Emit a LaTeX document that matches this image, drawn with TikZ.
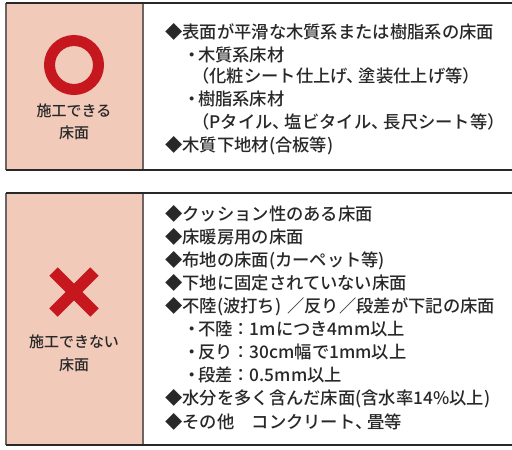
\documentclass[tikz,border=0pt]{standalone}
\usepackage{fontspec}
\setmainfont{Noto Sans CJK JP}[UprightFont=* Medium]
\definecolor{cellfill}{RGB}{242,202,186}
\definecolor{markred}{RGB}{198,22,30}
\definecolor{txtcol}{RGB}{40,40,40}
\definecolor{hcol}{RGB}{40,40,40}
\definecolor{vcol}{RGB}{110,100,100}
\newcommand{\dt}{・\kern-3pt}
\newcommand{\tk}{、\kern-5pt}
\begin{document}
\begin{tikzpicture}[x=1pt,y=-1pt,
  txt/.style={anchor=base west,inner sep=0pt,text=txtcol,font=\fontsize{17.3}{20}\selectfont},
  lbl/.style={anchor=base,inner sep=0pt,text=txtcol,font=\fontsize{15}{18}\selectfont},
  hline/.style={draw=hcol,line width=1.3pt},
  vline/.style={draw=vcol,line width=1.2pt},
  cell/.style={fill=cellfill}]
\useasboundingbox (0,0) rectangle (512,450);
% top box
\fill[cell] (6,3) rectangle (143,170);
\draw[vline] (6,3) -- (6,170);
\draw[vline] (143,3) -- (143,170);
\draw[hline] (6,3) -- (512,3);
\draw[hline] (6,170) -- (512,170);
% bottom box
\fill[cell] (6,193) rectangle (143,445);
\draw[vline] (6,193) -- (6,445);
\draw[vline] (143,193) -- (143,445);
\draw[hline] (6,193) -- (512,193);
\draw[hline] (6,445) -- (512,445);
% circle mark
\draw[markred,line width=11pt] (74,65) circle (24.5);
\node[lbl] (ok1) at (74,116) {施工できる};
\node[lbl] (ok2) at (74,138) {床面};
% cross mark
\draw[markred,line width=12pt] (53.5,271.5) -- (94.5,312.5);
\draw[markred,line width=12pt] (94.5,271.5) -- (53.5,312.5);
\node[lbl] (ng1) at (74,347.5) {施工できない};
\node[lbl] (ng2) at (74,370) {床面};
% top texts
\node[txt] (a1) at (165,38) {◆表面が平滑な木質系または樹脂系の床面};
\node[txt] (a2) at (183.5,61) {\dt 木質系床材};
\node[txt] (a3) at (192,82) {（化粧シート仕上げ\tk 塗装仕上げ等）};
\node[txt] (a4) at (183.5,105) {\dt 樹脂系床材};
\node[txt] (a5) at (192,128.5) {（Pタイル\tk 塩ビタイル\tk 長尺シート等）};
\node[txt] (a6) at (165,151) {◆木質下地材(合板等)};
% bottom texts
\node[txt] (b1) at (165,220) {◆クッション性のある床面};
\node[txt] (b2) at (165,243) {◆床暖房用の床面};
\node[txt] (b3) at (165,266) {◆布地の床面(カーペット等)};
\node[txt] (b4) at (165,289) {◆下地に固定されていない床面};
\node[txt] (b5) at (165,312) {◆不陸(波打ち)\kern6pt／反り／段差が下記の床面};
\node[txt] (b6) at (183.5,335.5) {\dt 不陸：1mにつき4mm以上};
\node[txt] (b7) at (183.5,358.5) {\dt 反り：30cm幅で1mm以上};
\node[txt] (b8) at (183.5,381.5) {\dt 段差：0.5mm以上};
\node[txt] (b9) at (165,404.5) {◆水分を多く含んだ床面(含水率14\%以上)};
\node[txt] (b10) at (165,428) {◆その他　コンクリート\tk 畳等};
\end{tikzpicture}
\end{document}
